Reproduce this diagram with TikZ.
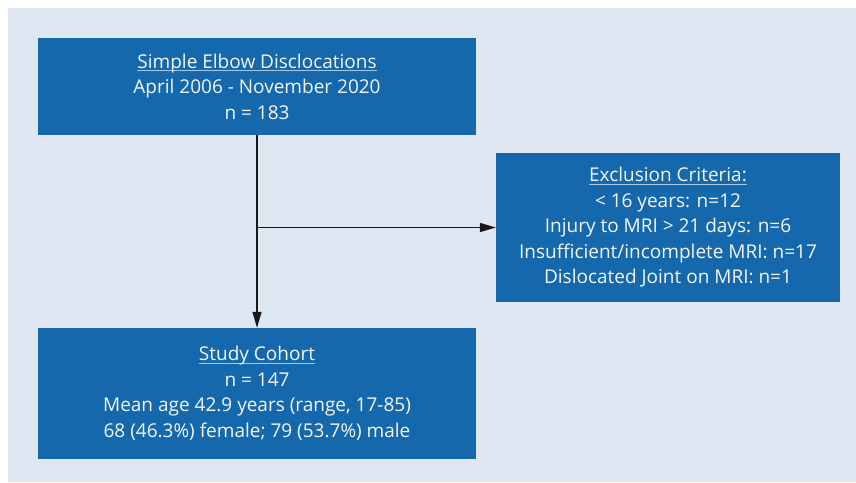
\documentclass[tikz,border=0pt]{standalone}
\usepackage{fontspec}
\setmainfont{Open Sans}
\usetikzlibrary{arrows.meta}
\definecolor{bgc}{RGB}{223,232,242}
\definecolor{boxc}{RGB}{22,104,172}
\definecolor{txtc}{RGB}{242,246,250}
\definecolor{ulc}{RGB}{170,198,226}
\newcommand{\myul}[1]{\setbox0\hbox{#1}\rlap{\color{ulc}\rule[-3pt]{\wd0}{1pt}}\box0}
\tikzset{
  panel/.style={fill=boxc, draw=none, text=txtc, align=center, inner sep=0pt,
    font=\fontsize{19pt}{25.5pt}\selectfont},
  arr/.style={line width=1.4pt, draw=black!90, -{Triangle[length=16pt,width=9pt]}},
}
\begin{document}
\begin{tikzpicture}[x=1pt,y=-1pt]
\useasboundingbox (0,0) rectangle (856,482);
\fill[white] (0,0) rectangle (856,482);
\fill[bgc] (8,8) rectangle (856,482);
\node[panel, minimum width=438pt, minimum height=97pt] (top) at (257,86.5)
  {\myul{Simple Elbow Disclocations}\\ April 2006 - November 2020\\ n = 183};
\node[panel, minimum width=344pt, minimum height=149pt] (excl) at (668,227.5)
  {\myul{Exclusion Criteria:}\\ < 16 years: n=12\\ Injury to MRI > 21 days: n=6\\ Insufficient/incomplete MRI: n=17\\ Dislocated Joint on MRI: n=1};
\node[panel, minimum width=438pt, minimum height=131pt] (coh) at (257,393.5)
  {\myul{Study Cohort}\\ n = 147\\ Mean age 42.9 years (range, 17-85)\\ 68 (46.3\%) female; 79 (53.7\%) male};
\coordinate (j) at (257,227.5);
\draw[arr] (top.south) -- (coh.north);
\draw[arr] (j) -- (excl.west);
\end{tikzpicture}
\end{document}
